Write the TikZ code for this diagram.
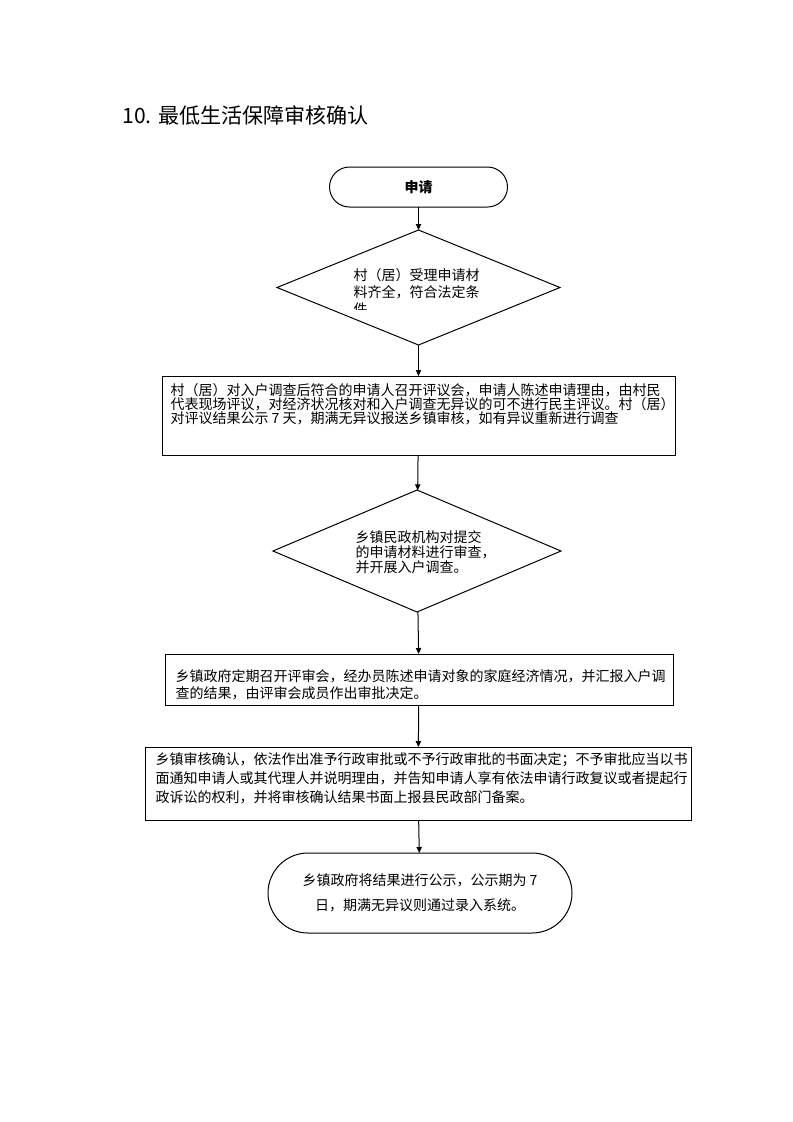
\documentclass[tikz,border=0pt]{standalone}
\usepackage{fontspec}
\setmainfont{Noto Sans CJK SC}
\usetikzlibrary{shapes.geometric,arrows.meta}
\lineskiplimit=-10pt

\begin{document}
\begin{tikzpicture}[x=0.75pt,y=-0.75pt,>={Triangle[length=4.5pt,width=4pt]},
  line width=0.75pt,
  txt/.style={inner sep=0pt,align=left,font=\fontsize{10.5pt}{#1}\selectfont},
  txt/.default=12.75pt,
  box/.style={draw,rectangle,inner sep=0pt,outer sep=0pt},
  term/.style={box,rounded corners=#1},
  test/.style={draw,diamond,inner sep=0pt,outer sep=0pt}]
   \useasboundingbox (0,0) rectangle (793,1122);
   \node[anchor=west,inner sep=0pt,font=\fontsize{15.8pt}{18pt}\selectfont] (title) at (122,115) {10. 最低生活保障审核确认};
   % start
   \node[term=15pt,minimum width=133.5pt,minimum height=30pt,font=\fontsize{10.5pt}{12pt}\selectfont\bfseries] (apply) at (418.5,187) {申请};
   % village check
   \node[test,minimum width=212.25pt,minimum height=86.25pt] (check1) at (418.5,287.5) {};
   \begin{scope}
     \clip (340,262) rectangle (520,309);
     \node[txt,anchor=west] (check1 text) at (353,292) {村（居）受理申请材\\料齐全，符合法定条\\件};
   \end{scope}
   \node[box,minimum width=384.75pt,minimum height=59.25pt] (review) at (418.5,415.5) {};
   \node[txt=10.65pt,anchor=west] (review text) at (170,404.5) {村（居）对入户调查后符合的申请人召开评议会，申请人陈述申请理由，由村民\\代表现场评议，对经济状况核对和入户调查无异议的可不进行民主评议。村（居）\\对评议结果公示 7 天，期满无异议报送乡镇审核，如有异议重新进行调查};
   % township check
   \node[test,minimum width=216pt,minimum height=91.5pt] (check2) at (417,551) {};
   \node[txt=11.25pt,anchor=west] (check2 text) at (355,552) {乡镇民政机构对提交\\的申请材料进行审查，\\并开展入户调查。};
   \node[box,minimum width=381pt,minimum height=38.25pt] (meeting) at (419,679.5) {};
   \node[txt=12.75pt,anchor=west] (meeting text) at (175,684.5) {乡镇政府定期召开评审会，经办员陈述申请对象的家庭经济情况，并汇报入户调\\查的结果，由评审会成员作出审批决定。};
   \node[box,minimum width=409.5pt,minimum height=54.75pt] (confirm) at (418,783.5) {};
   \node[txt=13.9pt,anchor=west] (confirm text) at (155,778.3) {乡镇审核确认，依法作出准予行政审批或不予行政审批的书面决定；不予审批应当以书\\面通知申请人或其代理人并说明理由，并告知申请人享有依法申请行政复议或者提起行\\政诉讼的权利，并将审核确认结果书面上报县民政部门备案。};
   % end
   \node[term=30pt,minimum width=228pt,minimum height=60pt,align=center,font=\fontsize{10.5pt}{18.75pt}\selectfont] (publish) at (420,893) {乡镇政府将结果进行公示，公示期为 7\\日，期满无异议则通过录入系统。};
    \path[->]
    (apply) edge (check1)
    (check1) edge (review)
    (review) edge (check2)
    (check2) edge (meeting)
    (meeting) edge (confirm)
    (confirm) edge (publish);
\end{tikzpicture}
\end{document}
